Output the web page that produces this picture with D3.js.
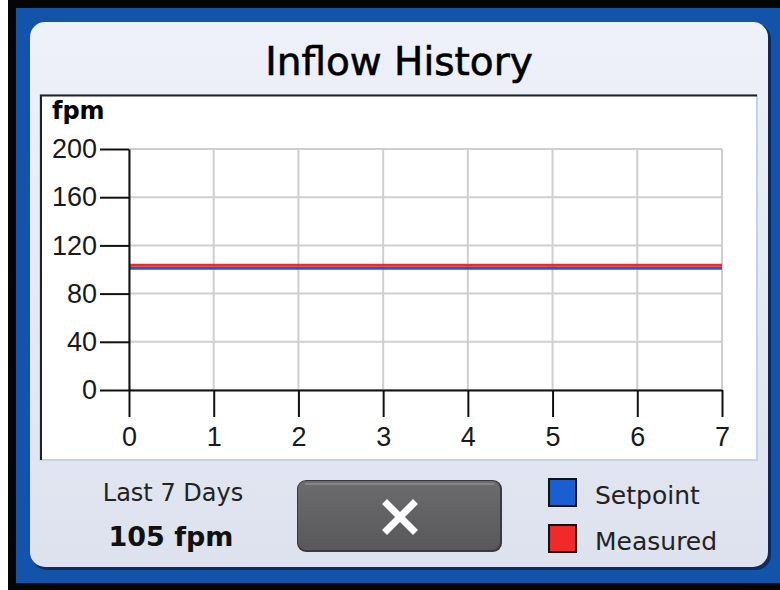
<!DOCTYPE html>
<html>
<head>
<meta charset="utf-8">
<script src="https://cdn.jsdelivr.net/npm/d3@7"></script>
<style>
  body { margin: 0; background: #fff; }
  svg { display: block; }
</style>
</head>
<body>
<svg id="chart"></svg>
<script>
// chart data
const days = [0, 1, 2, 3, 4, 5, 6, 7];
const setpoint = [101, 101, 101, 101, 101, 101, 101, 101];
const measured = [103.5, 103.5, 103.5, 103.5, 103.5, 103.5, 103.5, 103.5];
const yTicks = [0, 40, 80, 120, 160, 200];
const seriesNames = ["Setpoint", "Measured"];
const seriesColors = ["#1a5fd2", "#f02a2a"];
const title = "Inflow History";
const unit = "fpm";
const summaryLabel = "Last 7 Days";
const summaryValue = "105 fpm";

const W = 780, H = 590;
const svg = d3.select("#chart").attr("width", W).attr("height", H);

const defs = svg.append("defs");
const pg = defs.append("linearGradient").attr("id", "panelGrad")
    .attr("x1", 0).attr("y1", 0).attr("x2", 0).attr("y2", 1);
pg.append("stop").attr("offset", "0%").attr("stop-color", "#eef1f9");
pg.append("stop").attr("offset", "100%").attr("stop-color", "#dde2ee");
const bg = defs.append("linearGradient").attr("id", "btnGrad")
    .attr("x1", 0).attr("y1", 0).attr("x2", 0).attr("y2", 1);
bg.append("stop").attr("offset", "0%").attr("stop-color", "#6c6b6e");
bg.append("stop").attr("offset", "100%").attr("stop-color", "#58575a");

// frame
svg.append("rect").attr("x", 8).attr("y", 0).attr("width", W - 8).attr("height", H).attr("fill", "#050505");
svg.append("rect").attr("x", 16).attr("y", 8).attr("width", W - 16).attr("height", 575).attr("fill", "#1453aa");
svg.append("rect").attr("x", 32).attr("y", 24).attr("width", 739).attr("height", 546).attr("rx", 15)
    .attr("fill", "#0c2d62");
svg.append("rect").attr("x", 30).attr("y", 22).attr("width", 738).attr("height", 545).attr("rx", 15)
    .attr("fill", "url(#panelGrad)");

// title
svg.append("text")
    .attr("x", 399).attr("y", 75)
    .attr("text-anchor", "middle")
    .attr("font-family", "DejaVu Sans, sans-serif")
    .attr("font-size", "39px")
    .attr("fill", "#000")
    .attr("stroke", "#000").attr("stroke-width", 0.6)
    .text(title);

// chart box
svg.append("rect").attr("x", 40).attr("y", 95).attr("width", 717).attr("height", 365)
    .attr("fill", "#fff").attr("stroke", "#c9d1e6").attr("stroke-width", 2);
svg.append("path").attr("d", "M41,460 V95.5 H757")
    .attr("fill", "none").attr("stroke", "#222").attr("stroke-width", 2);

const x = d3.scaleLinear().domain([0, 7]).range([129, 722]);
const y = d3.scaleLinear().domain([0, 200]).range([390, 149]);

const grid = svg.append("g");
grid.selectAll("line.v").data(days).enter().append("line")
    .attr("x1", d => x(d)).attr("x2", d => x(d))
    .attr("y1", y(200)).attr("y2", y(0))
    .attr("stroke", "#cfcfcf").attr("stroke-width", 2);
grid.selectAll("line.h").data(yTicks).enter().append("line")
    .attr("x1", x(0)).attr("x2", x(7))
    .attr("y1", d => y(d)).attr("y2", d => y(d))
    .attr("stroke", "#cfcfcf").attr("stroke-width", 2);

// series lines
const line = d3.line().x((d, i) => x(days[i])).y(d => y(d));
[setpoint, measured].forEach((s, i) => {
    svg.append("path")
        .attr("d", line(s))
        .attr("fill", "none")
        .attr("stroke", seriesColors[i])
        .attr("stroke-width", 3);
});

// axes
const yAxis = d3.axisLeft(y).tickValues(yTicks).tickSize(29).tickSizeOuter(0).tickPadding(3);
const xAxis = d3.axisBottom(x).tickValues(days).tickFormat(d3.format("d"))
    .tickSize(27).tickSizeOuter(0).tickPadding(10);

const yg = svg.append("g").attr("transform", `translate(${x(0)},0)`).call(yAxis);
const xg = svg.append("g").attr("transform", `translate(0,${y(0)})`).call(xAxis);
[yg, xg].forEach(g => {
    g.attr("font-size", null).attr("font-family", null);
    g.selectAll("path, line").attr("stroke", "#111").attr("stroke-width", 2);
    g.selectAll("text")
        .attr("font-family", "Liberation Sans, Arial, sans-serif")
        .attr("font-size", "27px")
        .attr("fill", "#1a1a1a");
});

svg.append("text")
    .attr("x", 52).attr("y", 119)
    .attr("font-family", "DejaVu Sans, sans-serif")
    .attr("font-weight", "bold")
    .attr("font-size", "24px")
    .attr("fill", "#000")
    .text(unit);

// bottom summary
svg.append("text")
    .attr("x", 173).attr("y", 501)
    .attr("text-anchor", "middle")
    .attr("font-family", "DejaVu Sans, sans-serif")
    .attr("font-size", "24px")
    .attr("fill", "#222")
    .text(summaryLabel);
svg.append("text")
    .attr("x", 171).attr("y", 546)
    .attr("text-anchor", "middle")
    .attr("font-family", "DejaVu Sans, sans-serif")
    .attr("font-weight", "bold")
    .attr("font-size", "27px")
    .attr("fill", "#111")
    .text(summaryValue);

// close button
svg.append("rect").attr("x", 297).attr("y", 480).attr("width", 205).attr("height", 72).attr("rx", 9)
    .attr("fill", "#3a393c");
svg.append("rect").attr("x", 298).attr("y", 481).attr("width", 202).attr("height", 69).attr("rx", 8)
    .attr("fill", "url(#btnGrad)");
svg.append("line").attr("x1", 305).attr("x2", 494).attr("y1", 484).attr("y2", 484)
    .attr("stroke", "#858487").attr("stroke-width", 2);
svg.append("path").attr("d", "M387,504 L413,530 M413,504 L387,530")
    .attr("stroke", "#fff").attr("stroke-width", 7).attr("stroke-linecap", "square");

// legend
const legend = svg.append("g");
seriesNames.forEach((name, i) => {
    const ly = 479 + i * 46;
    legend.append("rect")
        .attr("x", 549).attr("y", ly).attr("width", 27).attr("height", 27)
        .attr("fill", seriesColors[i]).attr("stroke", "#111").attr("stroke-width", 2);
    legend.append("text")
        .attr("x", 595).attr("y", ly + 25)
        .attr("font-family", "DejaVu Sans, sans-serif")
        .attr("font-size", "25px")
        .attr("fill", "#222")
        .text(name);
});
</script>
</body>
</html>
